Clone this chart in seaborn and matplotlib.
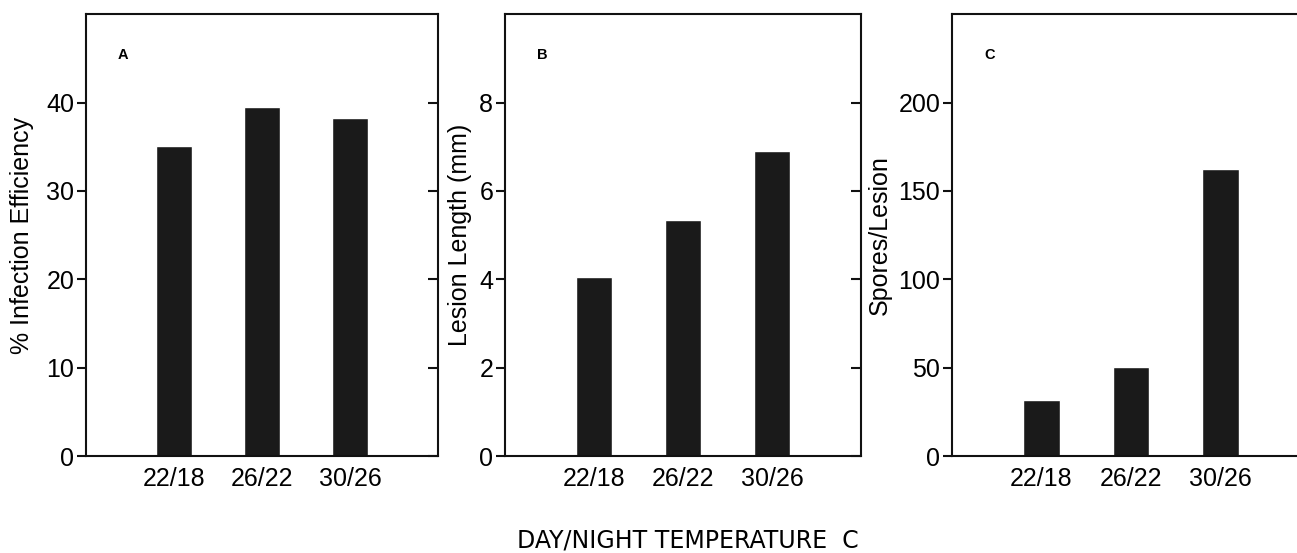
import matplotlib
matplotlib.use("Agg")
import matplotlib.pyplot as plt
import seaborn as sns

# day/night temperature treatments
temps = ["22/18", "26/22", "30/26"]

# panel values
infection = [35.1, 39.5, 38.3]      # % infection efficiency
lesion_len = [4.06, 5.33, 6.91]     # lesion length (mm)
spores = [31.9, 50.3, 162.3]        # spores per lesion

sns.set_style("ticks")
plt.rcParams["font.family"] = ["Liberation Sans", "DejaVu Sans"]
plt.rcParams["text.color"] = "black"
plt.rcParams["axes.labelcolor"] = "black"
plt.rcParams["xtick.color"] = "black"
plt.rcParams["ytick.color"] = "black"

fig = plt.figure(figsize=(12.97, 5.53), dpi=100)

panels = [
    # (left, width, values, ylabel, ylim, yticks, letter, labelpad)
    (0.0663, 0.2714, infection, "% Infection Efficiency", 50, [0, 10, 20, 30, 40], "A", 9),
    (0.3894, 0.2745, lesion_len, "Lesion Length (mm)", 10, [0, 2, 4, 6, 8], "B", 5),
    (0.7340, 0.2760, spores, "Spores/Lesion", 250, [0, 50, 100, 150, 200], "C", 5),
]

for left, width, vals, ylab, ymax, yt, letter, lp in panels:
    ax = fig.add_axes([left, 0.1754, width, 0.799])
    sns.barplot(x=temps, y=vals, color="#1a1a1a", width=0.41, saturation=1, ax=ax)
    ax.set_xlim(-1, 3)
    ax.set_ylim(0, ymax)
    ax.set_yticks(yt)
    ax.set_ylabel(ylab, fontsize=18, labelpad=lp)
    ax.set_xlabel("")
    for s in ax.spines.values():
        s.set_visible(True)
        s.set_linewidth(1.5)
        s.set_color("#111111")
    ax.tick_params(axis="y", direction="out", left=True, right=False,
                   labelsize=18, width=1.5, length=6.5, pad=2, color="#111111")
    # inward ticks on the right spine
    ax2 = ax.secondary_yaxis("right")
    ax2.set_yticks(yt)
    ax2.tick_params(direction="in", length=7, width=1.5, labelright=False, color="#111111")
    ax2.spines["right"].set_visible(False)
    ax.tick_params(axis="x", length=0, labelsize=18, pad=8)
    ax.text(0.105, 0.907, letter, transform=ax.transAxes, fontsize=10.5,
            fontweight="bold", ha="center", va="center")

fig.text(0.530, 0.0235, "DAY/NIGHT TEMPERATURE  C", fontsize=17,
         family="DejaVu Sans", ha="center", va="center")

fig.savefig("out.png", dpi=100)
